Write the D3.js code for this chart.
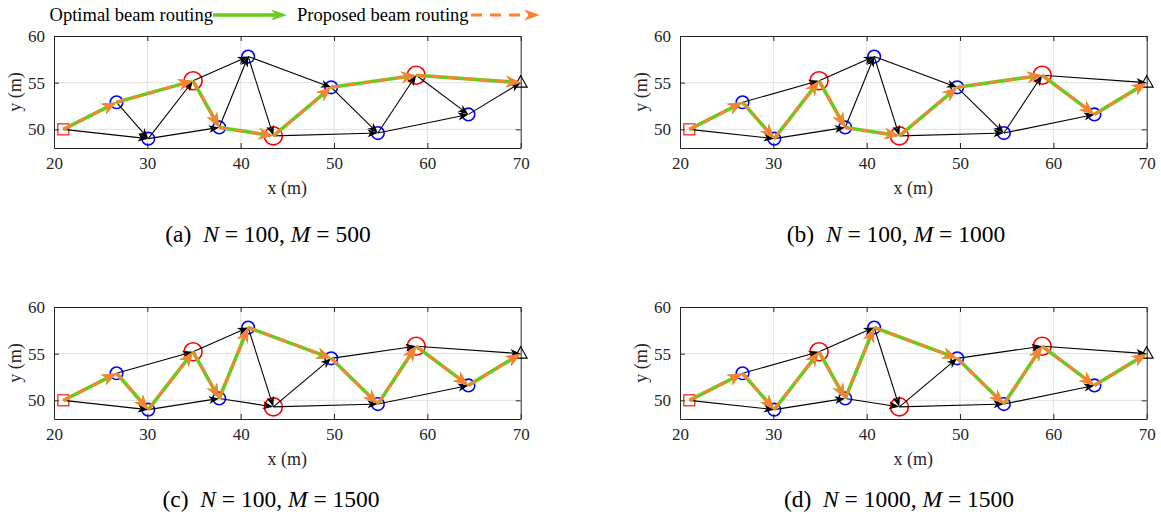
<!DOCTYPE html>
<html><head><meta charset="utf-8">
<script src="https://cdn.jsdelivr.net/npm/d3@7"></script>
<style>body{margin:0;background:#fff}svg{display:block}</style>
</head><body>
<svg id="chart" width="1161" height="514"></svg>
<script>
// ---- data ----
const nodeNames = ["S","A","B","C","D","E","F","G","H","I","J","T"];
const nodeX = [21, 26.7, 30.1, 34.9, 37.7, 40.8, 43.5, 49.7, 54.7, 58.8, 64.4, 70];
const nodeY = [50, 52.9, 49.0, 55.2, 50.2, 57.8, 49.3, 54.5, 49.6, 55.8, 51.6, 55];
const nodeType = ["source","relay","relay","ris","relay","relay","ris","relay","relay","ris","relay","dest"];
const edgeFrom = ["S","S","A","A","B","B","C","C","D","D","E","E","F","F","G","G","H","H","I","I","J"];
const edgeTo   = ["A","B","B","C","C","D","D","E","E","F","F","G","G","H","H","I","I","J","J","T","T"];
const pathA = ["S","A","C","D","F","G","I","T"];
const pathB = ["S","A","B","C","D","F","G","I","J","T"];
const pathC = ["S","A","B","C","D","E","G","H","I","J","T"];
const pathD = ["S","A","B","C","D","E","G","H","I","J","T"];
const routes = [pathA, pathB, pathC, pathD];
const captionTags = ["(a)","(b)","(c)","(d)"];
const captionN = ["100","100","100","1000"];
const captionM = ["500","1000","1500","1500"];
const xTicks = [20,30,40,50,60,70];
const yTicks = [50,55,60];
const legendLabels = ["Optimal beam routing","Proposed beam routing"];

// ---- styles / layout ----
const GREEN = "#66cc1a", ORANGE = "#ff7f33";
const FONT = "'Liberation Serif','Times New Roman',serif";
const W = 466.7, H = 112;
const panels = [
  {left:54, top:36, capX:268, capY:242},
  {left:680, top:36, capX:896, capY:242},
  {left:54, top:307, capX:271, capY:507},
  {left:680, top:307, capX:899, capY:507}
];

const svg = d3.select("#chart");
const idx = n => nodeNames.indexOf(n);

function headPath(x1,y1,x2,y2,L,Wd,notch){
  const dx=x2-x1, dy=y2-y1, len=Math.hypot(dx,dy);
  const ux=dx/len, uy=dy/len, nx=-uy, ny=ux;
  const bx=x2-L*ux, by=y2-L*uy;
  const mx=x2-notch*L*ux, my=y2-notch*L*uy;
  return {d:`M${x2},${y2}L${bx+Wd*nx},${by+Wd*ny}L${mx},${my}L${bx-Wd*nx},${by-Wd*ny}Z`, mx, my};
}

panels.forEach((p, pi) => {
  const x = d3.scaleLinear().domain([20,70]).range([p.left, p.left+W]);
  const y = d3.scaleLinear().domain([48,60]).range([p.top+H, p.top]);
  const g = svg.append("g");
  // grid
  g.selectAll(".gx").data(xTicks.slice(1,-1)).join("line")
    .attr("x1",d=>x(d)).attr("x2",d=>x(d)).attr("y1",p.top).attr("y2",p.top+H)
    .attr("stroke","#e1e1e1").attr("stroke-width",1);
  g.selectAll(".gy").data(yTicks.filter(d=>d<60)).join("line")
    .attr("y1",d=>y(d)).attr("y2",d=>y(d)).attr("x1",p.left).attr("x2",p.left+W)
    .attr("stroke","#e1e1e1").attr("stroke-width",1);
  // axes via d3
  const axB = d3.axisBottom(x).tickValues(xTicks).tickSizeInner(-5).tickSizeOuter(0).tickPadding(9);
  const axL = d3.axisLeft(y).tickValues(yTicks).tickSizeInner(-5).tickSizeOuter(0).tickPadding(9);
  const axT = d3.axisTop(x).tickValues(xTicks).tickSizeInner(-5).tickSizeOuter(0).tickFormat("");
  const axR = d3.axisRight(y).tickValues(yTicks).tickSizeInner(-5).tickSizeOuter(0).tickFormat("");
  [[axB,`translate(0,${p.top+H})`],[axL,`translate(${p.left},0)`],[axT,`translate(0,${p.top})`],[axR,`translate(${p.left+W},0)`]].forEach(([ax,tr])=>{
    const a = g.append("g").attr("transform",tr).call(ax);
    a.select(".domain").attr("stroke","#262626");
    a.selectAll(".tick line").attr("stroke","#262626");
    a.selectAll("text").attr("font-family",FONT).attr("font-size",17).attr("fill","#262626");
  });
  // axis labels
  g.append("text").attr("x",p.left+W/2).attr("y",p.top+H+46).attr("text-anchor","middle")
    .attr("font-family",FONT).attr("font-size",18).attr("fill","#262626").text("x (m)");
  g.append("text").attr("transform",`translate(${p.left-33},${p.top+H/2}) rotate(-90)`).attr("text-anchor","middle")
    .attr("font-family",FONT).attr("font-size",18).attr("fill","#262626").text("y (m)");

  // markers
  nodeNames.forEach((n,i)=>{
    const cx=x(nodeX[i]), cy=y(nodeY[i]);
    if(nodeType[i]==="relay") g.append("circle").attr("cx",cx).attr("cy",cy).attr("r",6.3).attr("fill","none").attr("stroke","#0000ff").attr("stroke-width",1.6);
    else if(nodeType[i]==="ris") g.append("circle").attr("cx",cx).attr("cy",cy).attr("r",9).attr("fill","none").attr("stroke","#ff0000").attr("stroke-width",1.6);
    else if(nodeType[i]==="source") g.append("rect").attr("x",cx-5.5).attr("y",cy-5.5).attr("width",11).attr("height",11).attr("fill","none").attr("stroke","#ff0000").attr("stroke-width",1.1);
    else g.append("path").attr("d",`M${cx},${cy-7}L${cx+6.5},${cy+4.5}L${cx-6.5},${cy+4.5}Z`).attr("fill","none").attr("stroke","#000").attr("stroke-width",1.1);
  });

  // black edges not on route
  const route = routes[pi];
  const onRoute = (a,b)=>{ for(let k=0;k<route.length-1;k++) if(route[k]===a&&route[k+1]===b) return true; return false; };
  edgeFrom.forEach((a,k)=>{
    const b=edgeTo[k];
    if(onRoute(a,b)) return;
    const x1=x(nodeX[idx(a)]), y1=y(nodeY[idx(a)]), x2=x(nodeX[idx(b)]), y2=y(nodeY[idx(b)]);
    const h=headPath(x1,y1,x2,y2,10.5,4,0.72);
    g.append("line").attr("x1",x1).attr("y1",y1).attr("x2",h.mx).attr("y2",h.my).attr("stroke","#000").attr("stroke-width",1.1);
    g.append("path").attr("d",h.d).attr("fill","#000");
  });

  // route: green solid, then orange dashed
  for(let k=0;k<route.length-1;k++){
    const a=route[k], b=route[k+1];
    const x1=x(nodeX[idx(a)]), y1=y(nodeY[idx(a)]), x2=x(nodeX[idx(b)]), y2=y(nodeY[idx(b)]);
    const h=headPath(x1,y1,x2,y2,15,6,0.7);
    g.append("line").attr("x1",x1).attr("y1",y1).attr("x2",h.mx).attr("y2",h.my).attr("stroke",GREEN).attr("stroke-width",3.6);
    g.append("path").attr("d",h.d).attr("fill",GREEN);
  }
  for(let k=0;k<route.length-1;k++){
    const a=route[k], b=route[k+1];
    const x1=x(nodeX[idx(a)]), y1=y(nodeY[idx(a)]), x2=x(nodeX[idx(b)]), y2=y(nodeY[idx(b)]);
    const h=headPath(x1,y1,x2,y2,15,6,0.7);
    g.append("line").attr("x1",x1).attr("y1",y1).attr("x2",h.mx).attr("y2",h.my).attr("stroke",ORANGE).attr("stroke-width",2.6).attr("stroke-dasharray","9,7");
    g.append("path").attr("d",h.d).attr("fill",ORANGE);
  }

  // caption
  const cap = g.append("text").attr("x",p.capX).attr("y",p.capY).attr("text-anchor","middle")
    .attr("font-family",FONT).attr("font-size",23.5).attr("fill","#000");
  cap.append("tspan").text(captionTags[pi]+"\u00a0\u00a0");
  cap.append("tspan").attr("font-style","italic").text("N");
  cap.append("tspan").text("\u00a0=\u00a0"+captionN[pi]+",\u00a0");
  cap.append("tspan").attr("font-style","italic").text("M");
  cap.append("tspan").text("\u00a0=\u00a0"+captionM[pi]);
});

// legend
const lg = svg.append("g");
lg.append("text").attr("x",213).attr("y",20.5).attr("text-anchor","end").attr("font-family",FONT).attr("font-size",18.5).text(legendLabels[0]);
lg.append("text").attr("x",297).attr("y",20.5).attr("font-family",FONT).attr("font-size",18.5).text(legendLabels[1]);
{
  const h=headPath(213,15,287,15,16,5.5,0.7);
  lg.append("line").attr("x1",213).attr("y1",15).attr("x2",h.mx).attr("y2",15).attr("stroke",GREEN).attr("stroke-width",3.6);
  lg.append("path").attr("d",h.d).attr("fill",GREEN);
  const h2=headPath(471,15,540,15,16,5.5,0.7);
  lg.append("line").attr("x1",471).attr("y1",15).attr("x2",h2.mx).attr("y2",15).attr("stroke",ORANGE).attr("stroke-width",3).attr("stroke-dasharray","11,8");
  lg.append("path").attr("d",h2.d).attr("fill",ORANGE);
}
</script>
</body></html>
